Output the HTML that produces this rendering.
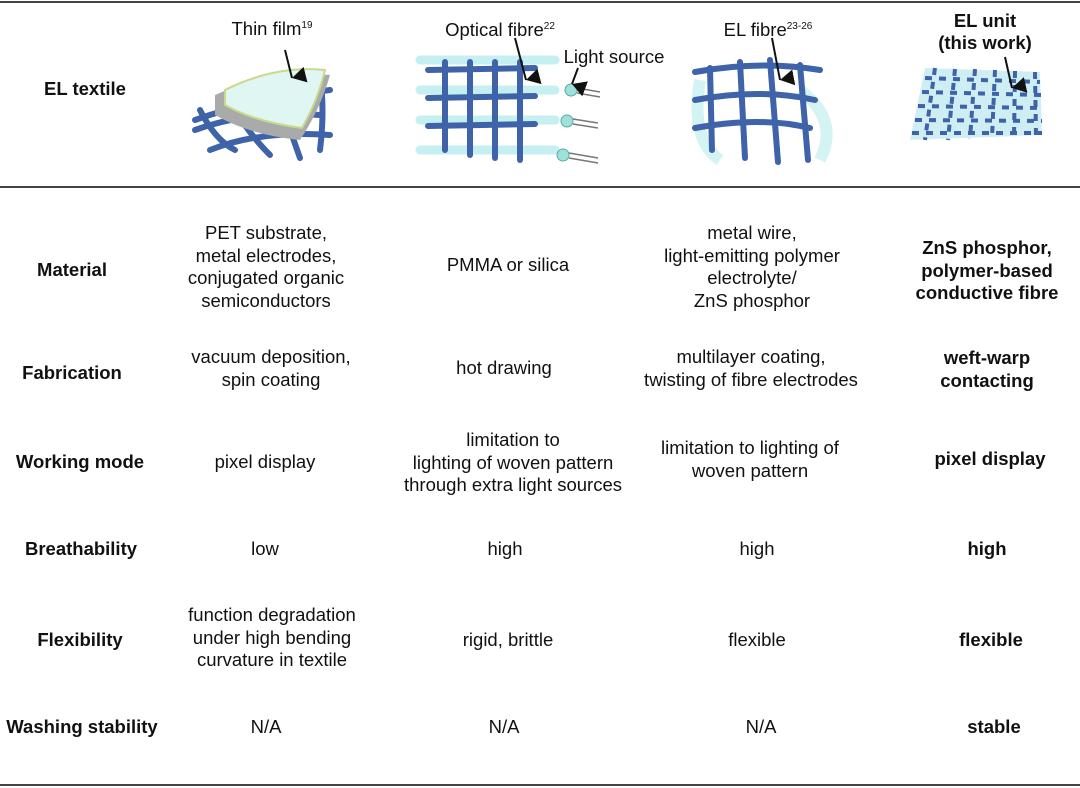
<!DOCTYPE html>
<html><head><meta charset="utf-8"><style>
body{margin:0;background:#fff;}
#p{position:relative;width:1080px;height:788px;overflow:hidden;background:#fff;font-family:"Liberation Sans",Arial,sans-serif;color:#111;font-size:18.5px;}
.t{position:absolute;transform:translateX(-50%);text-align:center;line-height:22.5px;white-space:nowrap;}
.b{font-weight:bold;}
.hr{position:absolute;left:0;width:1080px;height:2px;background:#444;}
sup{font-size:10px;vertical-align:top;position:relative;top:-3px;}
</style></head><body><div id="p">
<div class="hr" style="top:1px"></div>
<div class="hr" style="top:186px"></div>
<div class="hr" style="top:784px"></div>

<svg style="position:absolute;left:0;top:0" width="1080" height="186">
<defs><marker id="a" markerWidth="8" markerHeight="8" refX="4" refY="7" orient="auto"><path d="M0,0 L4,7 L8,0 Z" fill="#111"/></marker></defs>
<g stroke="#3f63a8" stroke-width="6" stroke-linecap="round" fill="none">
<path d="M195,130 Q250,110 320,115"/><path d="M195,120 Q250,100 330,90"/><path d="M210,150 Q260,130 330,135"/>
<path d="M200,110 Q215,140 235,150"/><path d="M230,100 Q245,130 270,155"/><path d="M280,100 Q290,130 300,158"/><path d="M320,75 Q325,110 320,150"/>
</g>
<path d="M215,95 Q270,70 330,75 Q320,110 300,140 Q250,135 215,115 Z" fill="#a9aaaa"/>
<path d="M225,90 Q275,65 325,70 Q318,100 302,128 Q255,122 225,105 Z" fill="#dff6f3" stroke="#c9d98a" stroke-width="2"/>
<line x1="285" y1="50" x2="292" y2="78" stroke="#111" stroke-width="2" marker-end="url(#a)"/>
<g stroke="#bfeef0" stroke-width="9" stroke-linecap="round" opacity="0.9">
<line x1="420" y1="60" x2="555" y2="60" /><line x1="420" y1="90" x2="555" y2="90"/><line x1="420" y1="120" x2="555" y2="120"/><line x1="420" y1="150" x2="555" y2="150"/>
</g>
<g stroke="#3f63a8" stroke-width="6" stroke-linecap="round">
<line x1="428" y1="70" x2="535" y2="68"/><line x1="428" y1="98" x2="535" y2="96"/><line x1="428" y1="126" x2="535" y2="124"/>
<line x1="445" y1="62" x2="445" y2="150"/><line x1="470" y1="62" x2="470" y2="155"/><line x1="495" y1="62" x2="495" y2="158"/><line x1="520" y1="62" x2="520" y2="160"/>
</g>
<line x1="515" y1="38" x2="526" y2="80" stroke="#111" stroke-width="2" marker-end="url(#a)"/>
<g fill="#9fe0d8" stroke="#5aa" stroke-width="1"><circle cx="571" cy="90" r="6"/><circle cx="567" cy="121" r="6"/><circle cx="563" cy="155" r="6"/></g>
<g stroke="#777" stroke-width="1.5"><line x1="577" y1="88" x2="600" y2="92"/><line x1="577" y1="93" x2="600" y2="97"/><line x1="573" y1="119" x2="598" y2="123"/><line x1="573" y1="124" x2="598" y2="128"/><line x1="569" y1="153" x2="598" y2="158"/><line x1="569" y1="158" x2="598" y2="163"/></g>
<line x1="578" y1="68" x2="572" y2="84" stroke="#111" stroke-width="2" marker-end="url(#a)"/>
<path d="M700,80 Q690,140 720,160 M800,90 Q840,120 820,160" stroke="#d4f3f3" stroke-width="12" fill="none"/>
<g stroke="#3f63a8" stroke-width="6" stroke-linecap="round" fill="none">
<path d="M695,72 Q760,60 820,70"/><path d="M695,100 Q760,88 815,100"/><path d="M695,128 Q760,116 810,128"/>
<path d="M710,68 L712,150"/><path d="M740,62 L745,158"/><path d="M770,60 L778,162"/><path d="M800,65 L808,160"/>
</g>
<line x1="772" y1="38" x2="780" y2="80" stroke="#111" stroke-width="2" marker-end="url(#a)"/>
<path d="M925,68 L1040,72 L1042,135 L910,140 Z" fill="#cfeef3"/>
<g stroke="#3f63a8" stroke-width="4" stroke-dasharray="7 7" fill="none">
<path d="M925,78 L1040,82"/><path d="M922,92 L1041,95"/><path d="M918,106 L1041,108"/><path d="M915,120 L1042,121"/><path d="M912,133 L1042,133"/>
<path d="M935,68 L925,140"/><path d="M955,69 L948,140"/><path d="M975,69 L970,139"/><path d="M995,70 L992,138"/><path d="M1015,71 L1014,137"/><path d="M1035,72 L1036,136"/>
</g>
<line x1="1005" y1="57" x2="1012" y2="88" stroke="#111" stroke-width="2" marker-end="url(#a)"/>
</svg>

<div class="t b" style="left:85px;top:78px">EL textile</div>
<div class="t" style="left:272px;top:18px">Thin film<sup>19</sup></div>
<div class="t" style="left:500px;top:19px">Optical fibre<sup>22</sup></div>
<div class="t" style="left:614px;top:46px">Light source</div>
<div class="t" style="left:768px;top:19px">EL fibre<sup>23-26</sup></div>
<div class="t b" style="left:985px;top:10px;line-height:22px">EL unit<br>(this work)</div>

<div class="t b" style="left:72px;top:259px">Material</div>
<div class="t" style="left:266px;top:222px">PET substrate,<br>metal electrodes,<br>conjugated organic<br>semiconductors</div>
<div class="t" style="left:508px;top:254px">PMMA or silica</div>
<div class="t" style="left:752px;top:222px">metal wire,<br>light-emitting polymer<br>electrolyte/<br>ZnS phosphor</div>
<div class="t b" style="left:987px;top:237px">ZnS phosphor,<br>polymer-based<br>conductive fibre</div>

<div class="t b" style="left:72px;top:362px">Fabrication</div>
<div class="t" style="left:271px;top:346px">vacuum deposition,<br>spin coating</div>
<div class="t" style="left:504px;top:357px">hot drawing</div>
<div class="t" style="left:751px;top:346px">multilayer coating,<br>twisting of fibre electrodes</div>
<div class="t b" style="left:987px;top:347px">weft-warp<br>contacting</div>

<div class="t b" style="left:80px;top:451px">Working mode</div>
<div class="t" style="left:265px;top:451px">pixel display</div>
<div class="t" style="left:513px;top:429px">limitation to<br>lighting of woven pattern<br>through extra light sources</div>
<div class="t" style="left:750px;top:437px">limitation to lighting of<br>woven pattern</div>
<div class="t b" style="left:990px;top:448px">pixel display</div>

<div class="t b" style="left:81px;top:538px">Breathability</div>
<div class="t" style="left:265px;top:538px">low</div>
<div class="t" style="left:505px;top:538px">high</div>
<div class="t" style="left:757px;top:538px">high</div>
<div class="t b" style="left:987px;top:538px">high</div>

<div class="t b" style="left:80px;top:629px">Flexibility</div>
<div class="t" style="left:272px;top:604px">function degradation<br>under high bending<br>curvature in textile</div>
<div class="t" style="left:508px;top:629px">rigid, brittle</div>
<div class="t" style="left:757px;top:629px">flexible</div>
<div class="t b" style="left:991px;top:629px">flexible</div>

<div class="t b" style="left:82px;top:716px">Washing stability</div>
<div class="t" style="left:266px;top:716px">N/A</div>
<div class="t" style="left:504px;top:716px">N/A</div>
<div class="t" style="left:761px;top:716px">N/A</div>
<div class="t b" style="left:994px;top:716px">stable</div>
</div></body></html>
